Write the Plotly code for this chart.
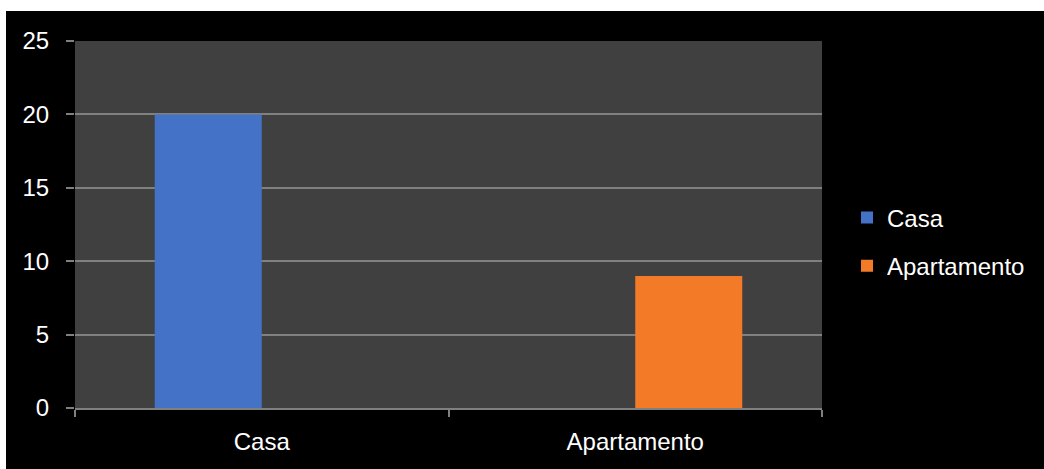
import plotly.graph_objects as go

categories = ["Casa", "Apartamento"]
casa_values = [20, 0]
apartamento_values = [0, 9]
series_names = ["Casa", "Apartamento"]
y_ticks = [0, 5, 10, 15, 20, 25]

BLUE = "#4472C6"
ORANGE = "#F37B28"
GRID = "#808080"
FONT = "Liberation Sans, Arial, sans-serif"

fig = go.Figure()
fig.add_trace(go.Bar(x=categories, y=casa_values, name=series_names[0],
                     marker=dict(color=BLUE, line=dict(width=0)), legendgroup="a"))
fig.add_trace(go.Bar(x=categories, y=apartamento_values, name=series_names[1],
                     marker=dict(color=ORANGE, line=dict(width=0)), legendgroup="b"))

W, H = 1044, 469
L, R, T, B = 75, 222, 41, 61
pw, ph = W - L - R, H - T - B

# black background panel (white strip at top and left like the reference)
fig.add_shape(type="rect", xref="paper", yref="paper",
              x0=(6 - L) / pw, x1=(W + 20 - L) / pw,
              y0=-(B + 20) / ph, y1=(H - B - 11) / ph,
              fillcolor="black", line=dict(width=0), layer="below")
fig.add_shape(type="rect", xref="paper", yref="paper", x0=0, x1=1, y0=0, y1=1,
              fillcolor="#404040", line=dict(width=0), layer="below")

fig.update_layout(
    width=W, height=H,
    margin=dict(l=L, r=R, t=T, b=B, pad=0),
    paper_bgcolor="white",
    plot_bgcolor="#404040",
    barmode="group",
    bargap=0.427,
    bargroupgap=0,
    font=dict(family=FONT, color="white", size=24),
    showlegend=True,
    legend=dict(x=(847 - L) / pw, xanchor="left", y=(408 - 242) / ph, yanchor="middle",
                font=dict(size=24, color="white", family=FONT),
                bgcolor="rgba(0,0,0,0)", traceorder="grouped", tracegroupgap=14,
                itemclick=False),
    xaxis=dict(showline=True, linecolor=GRID, linewidth=1.5, ticks="outside",
               tickson="boundaries", ticklen=7, tickcolor=GRID, tickwidth=1.5,
               showgrid=False, tickfont=dict(size=24, color="white"),
               ticklabelstandoff=11),
    yaxis=dict(range=[0, 25], tickvals=y_ticks, showgrid=True, gridcolor=GRID,
               gridwidth=1.5, zeroline=False, showline=False, ticks="outside",
               ticklen=8, tickcolor=GRID, tickwidth=1.5,
               tickfont=dict(size=24, color="white"), ticklabelstandoff=12),
)

fig.write_html("out.html",
               config={"displayModeBar": False},
               post_script="document.body.style.margin='0';document.body.style.padding='0';")
